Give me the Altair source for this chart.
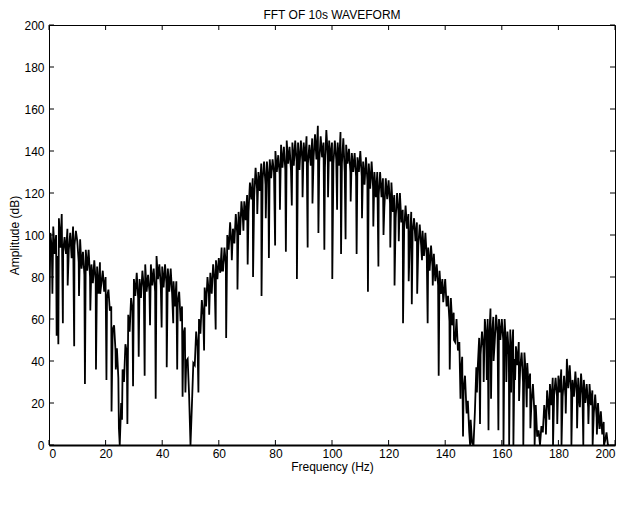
import altair as alt
import pandas as pd

band_step_hz = 0.5
band_amp = [
    47, 101, 93, 104, 91, 100, 90, 108, 94, 110, 92, 99, 91, 103, 93, 101, 89, 104, 95, 102,
    97, 87, 98, 84, 92, 81, 93, 83, 93, 80, 86, 77, 88, 78, 85, 72, 87, 77, 83, 73,
    80, 70, 74, 64, 66, 55, 57, 45, 46, 32, 0, 20, 36, 30, 48, 44, 62, 54, 70, 64,
    79, 71, 82, 70, 79, 70, 83, 75, 86, 73, 81, 73, 86, 76, 84, 73, 90, 79, 86, 76,
    85, 75, 86, 77, 84, 73, 84, 72, 78, 66, 78, 68, 73, 59, 66, 53, 56, 40, 41, 24,
    0, 19, 39, 38, 54, 47, 60, 53, 69, 62, 75, 66, 80, 72, 82, 72, 86, 79, 88, 79,
    89, 82, 94, 83, 94, 86, 100, 93, 106, 94, 103, 96, 110, 101, 111, 100, 116, 108, 116, 107,
    119, 111, 125, 117, 127, 118, 132, 122, 130, 121, 134, 127, 135, 124, 135, 127, 136, 127, 136, 130,
    140, 130, 138, 129, 143, 132, 142, 131, 145, 134, 142, 131, 144, 133, 145, 135, 144, 131, 145, 136,
    144, 135, 147, 134, 143, 133, 146, 137, 148, 136, 152, 135, 147, 137, 144, 132, 150, 138, 145, 135,
    144, 134, 145, 136, 144, 133, 149, 134, 146, 130, 143, 134, 141, 130, 139, 130, 139, 128, 137, 130,
    140, 128, 135, 124, 137, 126, 134, 122, 135, 123, 130, 118, 130, 119, 130, 118, 127, 113, 127, 117,
    126, 115, 125, 111, 119, 108, 120, 110, 120, 106, 112, 103, 114, 103, 110, 97, 111, 102, 108, 97,
    106, 95, 105, 95, 102, 90, 101, 89, 94, 83, 95, 85, 91, 78, 86, 76, 83, 72, 79, 71,
    79, 66, 71, 59, 70, 57, 63, 49, 60, 45, 49, 34, 42, 26, 33, 17, 21, 6, 12, 1,
    0, 16, 37, 37, 51, 43, 54, 46, 60, 51, 60, 49, 65, 52, 61, 49, 62, 53, 60, 50,
    60, 50, 60, 46, 54, 43, 55, 45, 55, 41, 47, 38, 49, 37, 44, 30, 44, 33, 39, 27,
    34, 21, 29, 16, 19, 4, 7, 0, 9, 6, 19, 12, 26, 18, 29, 19, 32, 24, 32, 23,
    33, 25, 36, 23, 33, 23, 41, 27, 38, 25, 31, 23, 35, 24, 32, 19, 34, 24, 31, 20,
    29, 18, 29, 19, 26, 15, 24, 13, 20, 8, 16, 5, 11, 2, 6, 0, 0,
]

# Downward spikes (Hz, dB)
dip_freq = [
    1.2, 2.7, 3.3, 4.9, 6.6, 8.9, 10.6, 12.7, 14.6, 16.6, 18.1, 20.3, 22.1, 23.6, 24.7,
    25.8, 27.7, 29.7, 31.7, 33.8, 35.7, 37.7, 39.8, 41.6, 43.9, 45.3, 47.2, 48.2,
    52.8, 54.8, 56.6, 58.9, 61.1, 62.6, 64.6, 66.6, 68.7, 70.2,
    72.1, 73.6, 75.1, 76.6, 77.7, 79.9, 81.6, 83.7, 85.8, 87.6,
    89.6, 91.4, 93.1, 95.2, 97.3, 98.6, 100.1, 101.8, 103.2, 104.8,
    106.6, 108.7, 110.6, 112.7, 114.6, 116.4, 118.2, 120.6, 122.1, 123.6,
    125.1, 127.1, 128.2, 130.1, 131.8, 133.8, 135.6, 137.7, 139.3, 141.6,
    143.1, 145.4, 146.3, 147.6, 148.8,
    151.2, 152.3, 153.6, 154.7, 155.3, 156.2, 157.1, 158.8, 160.6, 161.6,
    162.6, 163.3, 164.1, 164.7, 166.1, 167.6, 168.8, 170.1, 171.6,
    175.6, 176.8, 178.1, 179.6, 181.1, 182.6, 184.6, 186.6, 187.6, 188.8,
    190.6, 192.1, 193.6, 194.6, 196.1,
]
dip_amp = [
    72, 52, 48, 58, 76, 47, 71, 29, 64, 36, 72, 31, 16, 36, 8,
    12, 10, 28, 42, 33, 57, 22, 56, 37, 58, 36, 23, 25,
    25, 45, 62, 55, 83, 51, 88, 74, 102, 86,
    80, 110, 71, 108, 89, 95, 112, 92, 114, 79,
    118, 94, 115, 101, 93, 118, 79, 112, 91, 98,
    116, 91, 108, 73, 104, 85, 100, 94, 76, 97,
    58, 78, 67, 72, 88, 58, 76, 33, 68, 36,
    50, 22, 4, 15, 0,
    25, 10, 30, 31, 7, 22, 40, 7, 0, 30,
    0, 25, 0, 31, 21, 0, 18, 8, 0,
    5, 12, 0, 10, 0, 15, 0, 8, 18, 0,
    10, 0, 5, 8, 0,
]

x_ticks = [0, 20, 40, 60, 80, 100, 120, 140, 160, 180, 200]
y_ticks = [0, 20, 40, 60, 80, 100, 120, 140, 160, 180, 200]

freq = [i * band_step_hz for i in range(len(band_amp))] + dip_freq
amp = band_amp + dip_amp
df = pd.DataFrame({"f": freq, "a": amp}).sort_values("f", kind="stable").reset_index(drop=True)
df["order"] = list(range(len(df)))

W, H = 566, 420
TICK = 5
FONT = "Liberation Sans"
XT = "Frequency (Hz)"
YT = "Amplitude (dB)"

xs = alt.Scale(domain=[0, 200], nice=False, zero=False)
ys = alt.Scale(domain=[0, 200], nice=False, zero=False)

x_axis = alt.Axis(values=x_ticks, ticks=False, domain=True, domainColor="black", domainWidth=2,
                  grid=False, labelFont=FONT, labelFontSize=12, labelColor="black",
                  labelPadding=3, titleFont=FONT, titleFontSize=12, titleFontWeight="normal",
                  titleColor="black", titlePadding=2)
y_axis = alt.Axis(values=y_ticks, ticks=False, domain=False, grid=False,
                  labelFont=FONT, labelFontSize=12, labelColor="black", labelPadding=5,
                  titleFont=FONT, titleFontSize=12, titleFontWeight="normal",
                  titleColor="black", titlePadding=2)

line = alt.Chart(df).mark_line(color="black", strokeWidth=1.8, clip=True).encode(
    x=alt.X("f:Q", scale=xs, axis=x_axis, title=XT),
    y=alt.Y("a:Q", scale=ys, axis=y_axis, title=YT),
    order="order:Q",
)

xt = pd.DataFrame({"v": x_ticks})
yt = pd.DataFrame({"v": y_ticks})

bottom_ticks = alt.Chart(xt).mark_rule(color="black", strokeWidth=1).encode(
    x=alt.X("v:Q", scale=xs, title=XT), y=alt.value(H), y2=alt.value(H - TICK))
top_ticks = alt.Chart(xt).mark_rule(color="black", strokeWidth=1).encode(
    x=alt.X("v:Q", scale=xs, title=XT), y=alt.value(0), y2=alt.value(TICK))
left_ticks = alt.Chart(yt).mark_rule(color="black", strokeWidth=1).encode(
    y=alt.Y("v:Q", scale=ys, title=YT), x=alt.value(0), x2=alt.value(TICK))
right_ticks = alt.Chart(yt).mark_rule(color="black", strokeWidth=1).encode(
    y=alt.Y("v:Q", scale=ys, title=YT), x=alt.value(W), x2=alt.value(W - TICK))

chart = alt.layer(line, bottom_ticks, top_ticks, left_ticks, right_ticks).properties(
    width=W, height=H,
    title=alt.TitleParams("FFT OF 10s WAVEFORM", font=FONT, fontSize=12, fontWeight="normal",
                          color="black", anchor="middle", offset=-3),
    autosize=alt.AutoSizeParams(type="none"),
    padding={"left": 41, "top": 17, "right": 2, "bottom": 45},
    background="white",
).configure_view(stroke="black", strokeWidth=1)

chart.save("out.html", embed_options={"renderer": "svg", "actions": False})
